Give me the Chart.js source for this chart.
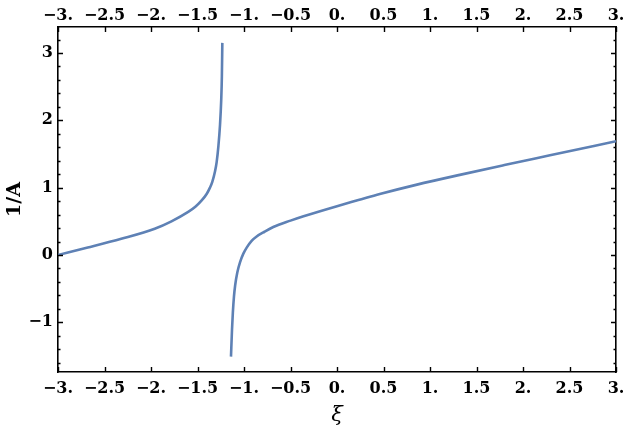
<!DOCTYPE html>
<html lang="en">
<head>
<meta charset="UTF-8">
<title>1/A</title>
<script src="https://cdn.jsdelivr.net/npm/chart.js@4.4.0/dist/chart.umd.min.js"></script>
<style>
    html, body { margin: 0; padding: 0; background: #fff; overflow: hidden; }
    #wrap { width: 627px; height: 430px; }
</style>
</head>
<body>
<div id="wrap"><canvas id="myChart" width="627" height="430"></canvas></div>
<script>
    // values
    let leftXi  = [-3.0, -2.68, -2.32, -1.96, -1.78, -1.60, -1.52, -1.455, -1.40, -1.366, -1.34, -1.312, -1.294, -1.275, -1.258, -1.245, -1.238, -1.233];
    let leftInv = [0.0, 0.11, 0.24, 0.39, 0.50, 0.64, 0.72, 0.81, 0.91, 1.00, 1.09, 1.24, 1.38, 1.62, 1.93, 2.30, 2.65, 3.15];
    let rightXi  = [-1.140, -1.129, -1.120, -1.108, -1.095, -1.072, -1.043, -1.007, -0.971, -0.918, -0.864, -0.78, -0.685, -0.50, -0.36, 0.0, 0.23, 0.46, 0.86, 1.32, 1.80, 2.29, 3.0];
    let rightInv = [-1.51, -1.11, -0.86, -0.62, -0.45, -0.26, -0.11, 0.02, 0.11, 0.21, 0.275, 0.345, 0.415, 0.51, 0.575, 0.725, 0.815, 0.905, 1.045, 1.19, 1.335, 1.48, 1.69];

    let xRange = [-3, 3];
    let yRange = [-1.738, 3.386];
    let xStep = 0.5;
    let yStep = 1;
    let yMinorStep = 0.2;

    let lineColor = "#5E81B5";
    let tickFont = { family: "DejaVu Serif", size: 16, weight: "bold" };

    function pts(xs, ys) {
        return xs.map((x, i) => ({ x: x, y: ys[i] }));
    }

    function xLabel(v) {
        let s = Number.isInteger(v) ? v.toFixed(0) + "." : v.toFixed(1);
        return s.replace("-", "\u2212");
    }
    function yLabel(v) {
        return String(v).replace("-", "\u2212");
    }

    // Mathematica style frame ticks, pointing inward
    const frameTicks = {
        id: "frameTicks",
        afterDraw(chart) {
            const { ctx, chartArea: a, scales } = chart;
            ctx.save();
            ctx.strokeStyle = "#000";
            ctx.lineWidth = 1.4;
            ctx.beginPath();
            scales.x.ticks.forEach(t => {
                let px = Math.round(scales.x.getPixelForValue(t.value)) + 0.5;
                ctx.moveTo(px, a.bottom); ctx.lineTo(px, a.bottom - 5);
                ctx.moveTo(px, a.top); ctx.lineTo(px, a.top + 5);
            });
            let n0 = Math.ceil(yRange[0] / yMinorStep), n1 = Math.floor(yRange[1] / yMinorStep);
            for (let n = n0; n <= n1; n++) {
                let v = n * yMinorStep;
                let major = Math.abs(v - Math.round(v)) < 1e-6;
                let len = major ? 5 : 2.5;
                let py = Math.round(scales.y.getPixelForValue(v)) + 0.5;
                ctx.moveTo(a.left, py); ctx.lineTo(a.left + len, py);
                ctx.moveTo(a.right, py); ctx.lineTo(a.right - len, py);
            }
            ctx.stroke();
            ctx.restore();
        }
    };

    function fixSize(w, h) {
        return function (scale) {
            if (w !== null) scale.width = w;
            if (h !== null) scale.height = h;
            scale.paddingLeft = 0; scale.paddingRight = 0;
            scale.paddingTop = 0; scale.paddingBottom = 0;
        };
    }

    let border = { display: true, color: "#000", width: 1.6 };
    let noGrid = { display: false, drawTicks: false };

    function show() {
        var ctx = document.getElementById("myChart").getContext("2d");
        var myChart = new Chart(ctx, {
            type: "scatter",
            data: {
                datasets: [{
                    data: pts(leftXi, leftInv),
                    showLine: true,
                    borderColor: lineColor,
                    borderWidth: 2.6,
                    pointRadius: 0,
                    cubicInterpolationMode: "monotone"
                }, {
                    data: pts(rightXi, rightInv),
                    showLine: true,
                    borderColor: lineColor,
                    borderWidth: 2.6,
                    pointRadius: 0,
                    cubicInterpolationMode: "monotone"
                }]
            },
            plugins: [frameTicks],
            options: {
                responsive: false,
                animation: false,
                layout: { padding: 0 },
                plugins: {
                    legend: { display: false },
                    tooltip: { enabled: false }
                },
                scales: {
                    x: {
                        type: "linear", position: "bottom",
                        min: xRange[0], max: xRange[1],
                        grid: noGrid,
                        border: border,
                        ticks: { stepSize: xStep, color: "#000", font: tickFont, padding: 7, maxRotation: 0, autoSkip: false, callback: xLabel },
                        title: { display: true, text: "\u03BE", color: "#000", font: { family: "DejaVu Serif", size: 21, style: "italic" }, padding: { top: 4, bottom: 2 } },
                        afterFit: fixSize(null, 58)
                    },
                    x2: {
                        type: "linear", position: "top",
                        min: xRange[0], max: xRange[1],
                        grid: noGrid,
                        border: border,
                        ticks: { stepSize: xStep, color: "#000", font: tickFont, padding: 2, maxRotation: 0, autoSkip: false, callback: xLabel },
                        afterFit: fixSize(null, 27)
                    },
                    y: {
                        type: "linear", position: "left",
                        min: yRange[0], max: yRange[1],
                        grid: noGrid,
                        border: border,
                        ticks: { stepSize: yStep, includeBounds: false, color: "#000", font: tickFont, padding: 5, callback: yLabel },
                        title: { display: true, text: "1/A", color: "#000", font: { family: "DejaVu Serif", size: 19, weight: "bold" }, padding: { top: 4, bottom: 0 } },
                        afterFit: fixSize(58, null)
                    },
                    y2: {
                        type: "linear", position: "right",
                        min: yRange[0], max: yRange[1],
                        grid: noGrid,
                        border: border,
                        ticks: { display: false },
                        afterFit: fixSize(11, null)
                    }
                }
            }
        });
    }
    show();
</script>
</body>
</html>
